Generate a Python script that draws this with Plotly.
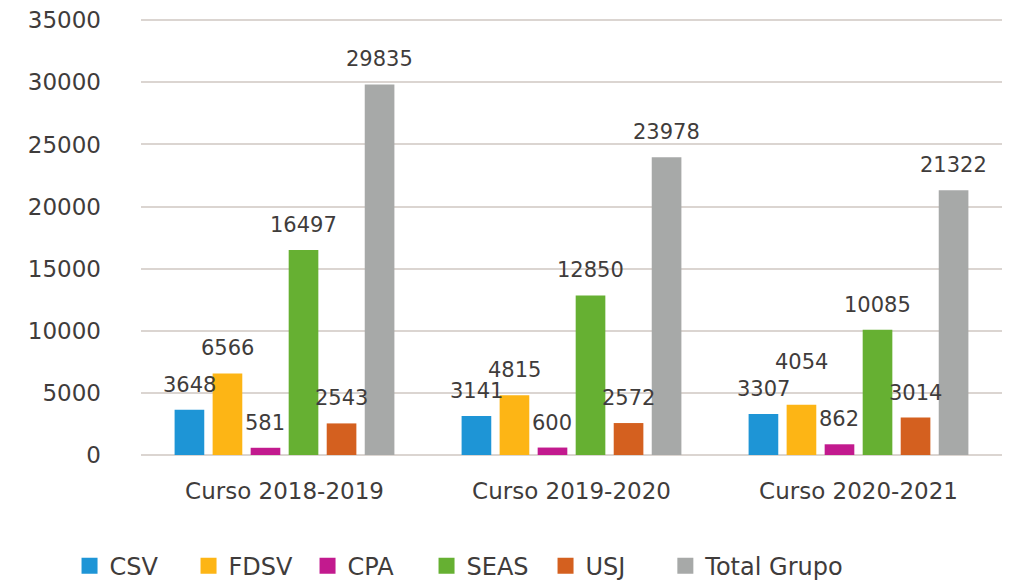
import plotly.graph_objects as go

categories = ["Curso 2018-2019", "Curso 2019-2020", "Curso 2020-2021"]
series_names = ["CSV", "FDSV", "CPA", "SEAS", "USJ", "Total Grupo"]
csv = [3648, 3141, 3307]
fdsv = [6566, 4815, 4054]
cpa = [581, 600, 862]
seas = [16497, 12850, 10085]
usj = [2543, 2572, 3014]
total = [29835, 23978, 21322]
y_ticks = [0, 5000, 10000, 15000, 20000, 25000, 30000, 35000]

values = [csv, fdsv, cpa, seas, usj, total]
colors = ["#1E95D6", "#FDB515", "#C21A8E", "#66B032", "#D4601F", "#A7A9A8"]

FONT = "DejaVu Sans, Verdana, sans-serif"
TXT = "#3f3c3b"
GRID = "#DBD5D1"

# layout parameters (page has an 8px body margin)
W, H = 1013, 572
M = dict(l=133, r=19, t=11, b=125)
YTOP = 35100
BARGAP, GROUPGAP = 0.205, 0.22
plot_h = H - M["t"] - M["b"]
units_per_px = YTOP / plot_h

fig = go.Figure()
for k, (name, vals, col) in enumerate(zip(series_names, values, colors)):
    fig.add_trace(go.Bar(
        name=name, x=categories, y=vals, marker=dict(color=col, line=dict(width=0)),
        showlegend=False, hoverinfo="x+y+name",
    ))
    # legend proxy with large square swatch
    fig.add_trace(go.Scatter(
        name=name, x=[None], y=[None], mode="markers",
        marker=dict(symbol="square", size=19, color=col), showlegend=True,
        legend="legend" if k < len(series_names) - 1 else "legend2",
    ))

# data labels above bars (Excel-style, nudged upward when they would collide)
n = len(series_names)
slot = (1 - BARGAP) / n
annotations = []
for g in range(len(categories)):
    prev = None
    for i in range(n):
        v = values[i][g]
        ylab = v
        if prev is not None and abs(ylab - prev) < 17 * units_per_px:
            ylab = prev + 27 * units_per_px
        prev = ylab
        annotations.append(dict(
            x=g - (1 - BARGAP) / 2 + slot * (i + 0.5), y=ylab, xref="x", yref="y",
            text=str(v), showarrow=False, yanchor="bottom", yshift=11,
            font=dict(size=21, family=FONT, color=TXT),
        ))

legend_common = dict(orientation="h", xanchor="left", y=-0.255, yanchor="middle",
                     font=dict(size=24, family=FONT, color=TXT), traceorder="normal",
                     itemsizing="trace", bgcolor="rgba(0,0,0,0)")

fig.update_layout(
    width=W, height=H,
    margin=dict(**M, autoexpand=False),
    paper_bgcolor="white", plot_bgcolor="white",
    font=dict(family=FONT, color=TXT, size=21),
    barmode="group", bargap=BARGAP, bargroupgap=GROUPGAP,
    annotations=annotations,
    legend=dict(x=-0.083, entrywidth=74, entrywidthmode="pixels", **legend_common),
    legend2=dict(x=0.609, **legend_common),
    showlegend=True,
)
fig.update_yaxes(range=[0, YTOP], tickvals=y_ticks, ticktext=[str(t) for t in y_ticks],
                 showgrid=True, gridcolor=GRID, gridwidth=1.5, zeroline=True,
                 zerolinecolor=GRID, zerolinewidth=1.5, ticklabelstandoff=39,
                 ticklabeloverflow="allow",
                 tickfont=dict(size=23, family=FONT, color=TXT))
fig.update_xaxes(showline=False, tickfont=dict(size=23, family=FONT, color=TXT),
                 ticklabelstandoff=20, range=[-0.5, 2.5])

fig.write_html("out.html")
